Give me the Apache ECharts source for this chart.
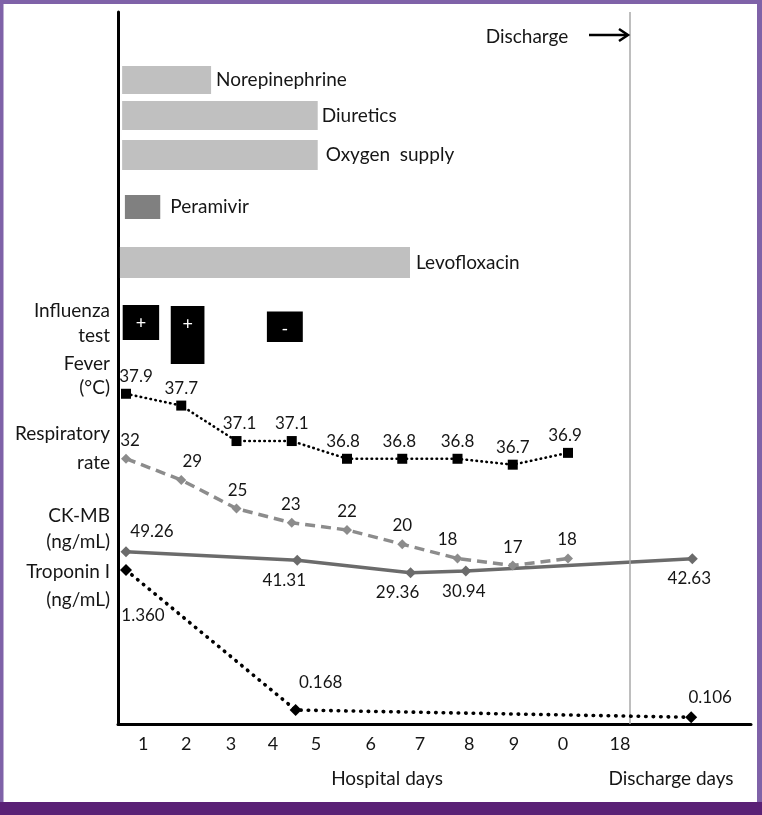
<!DOCTYPE html>
<html><head><meta charset="utf-8">
<script src="https://cdn.jsdelivr.net/npm/echarts@6/dist/echarts.min.js"></script>
<style>html,body{margin:0;padding:0;background:#fff}#c{width:762px;height:815px}</style>
</head><body><div id="c"></div>
<script>
// ================= DATA =================
const treatments = ['Norepinephrine', 'Diuretics', 'Oxygen  supply', 'Peramivir', 'Levofloxacin'];
const treatmentStart = [0.93, 0.93, 0.93, 0.98, 0.89];   // timeline day position
const treatmentEnd   = [2.54, 4.47, 4.47, 1.62, 6.14];

const influenzaResults = ['+', '+', '-'];
const influenzaStart = [0.94, 1.81, 3.55];
const influenzaEnd   = [1.60, 2.42, 4.20];

const vitalDays = [1, 2, 3, 4, 5, 6, 7, 8, 9];
const fever    = [37.9, 37.7, 37.1, 37.1, 36.8, 36.8, 36.8, 36.7, 36.9];
const respRate = [32, 29, 25, 23, 22, 20, 18, 17, 18];

const ckmbDays = [1, 4.1, 6.15, 7.15, 11.25];
const ckmb     = [49.26, 41.31, 29.36, 30.94, 42.63];

const troponinDays = [1, 4.07, 11.23];
const troponin     = [1.360, 0.168, 0.106];

const dayTickPositions = [1.31, 2.09, 2.90, 3.66, 4.44, 5.43, 6.32, 7.21, 8.02, 8.91, 9.94];
const dayTickLabels    = ['1', '2', '3', '4', '5', '6', '7', '8', '9', '0', '18'];
const dischargeDay = 10.12;

const rowTitles = ['Influenza', 'test', 'Fever', '(°C)', 'Respiratory', 'rate', 'CK-MB', '(ng/mL)', 'Troponin I', '(ng/mL)'];

// ================= LAYOUT / STYLE =================
const FONT = 'Lato, "Open Sans", sans-serif';
const TXT = '#161616';
const laneCenter = [6.8, 10.35, 14.3, 19.5, 25.05];
const laneHeight = [2.8, 2.9, 3.0, 2.4, 3.1];
const laneColor  = ['#c0c0c0', '#c0c0c0', '#c0c0c0', '#808080', '#c0c0c0'];
const laneLabelGap = [5, 4, 8, 10, 6];
const fluTop = [29.3, 29.4, 29.95];
const fluBottom = [32.8, 35.2, 33.0];
const rowTitleY = [311, 336, 364, 388, 434, 463, 516, 542, 572, 600];

const feverOffsets = [[10, 0], [0, 0], [3, 0], [0, 0], [-4, 0], [-3, 0], [0, 0], [0, 0], [-3, 0]];
const rrOffsets = [[4, 0], [11, 0], [1, 0], [-1, 0], [0, 0], [0, 0], [-10, 0], [0, 0], [-1, 0]];
const ckPos = ['top', 'bottom', 'bottom', 'bottom', 'bottom'];
const ckOffsets = [[26, 0], [-13, 0], [-13, 0], [-2, 0], [-3, 0]];
const tropPos = ['bottom', 'top', 'top'];
const tropDist = [31, 13, 5];
const tropOffsets = [[17, 0], [25, 0], [19, 0]];

const chart = echarts.init(document.getElementById('c'), null, {renderer: 'canvas'});

const labelBase = {show: true, fontSize: 17, fontFamily: FONT, color: TXT};

const graphics = [];
rowTitles.forEach((t, i) => graphics.push({
  type: 'text', z: 10,
  style: {text: t, x: 110, y: rowTitleY[i], align: 'right', verticalAlign: 'middle',
          font: '19px ' + FONT, fill: TXT}
}));
graphics.push(
  {type: 'text', z: 10, style: {text: 'Discharge', x: 527, y: 37, align: 'center', verticalAlign: 'middle', font: '19px ' + FONT, fill: TXT}},
  {type: 'line', z: 10, shape: {x1: 589, y1: 35, x2: 627, y2: 35}, style: {stroke: '#000', lineWidth: 2.5}},
  {type: 'polyline', z: 10, shape: {points: [[619, 29], [628, 35], [619, 41]]}, style: {stroke: '#000', lineWidth: 2.5, fill: null}},
  {type: 'text', z: 10, style: {text: 'Hospital days', x: 387, y: 779, align: 'center', verticalAlign: 'middle', font: '19px ' + FONT, fill: TXT}},
  {type: 'text', z: 10, style: {text: 'Discharge days', x: 671, y: 779, align: 'center', verticalAlign: 'middle', font: '19px ' + FONT, fill: TXT}},
  // mask for a stray right-hand grid edge, on a layer above everything
  {type: 'rect', zlevel: 5, z: 1, shape: {x: 747.5, y: 5, width: 8, height: 716.5}, style: {fill: '#fff'}},
  // frame
  {type: 'rect', zlevel: 5, z: 2, shape: {x: 0, y: 0, width: 762, height: 4}, style: {fill: '#7f62a8'}},
  {type: 'rect', zlevel: 5, z: 2, shape: {x: 0, y: 0, width: 3.5, height: 815}, style: {fill: '#7f62a8'}},
  {type: 'rect', zlevel: 5, z: 2, shape: {x: 757, y: 0, width: 5, height: 815}, style: {fill: '#7f62a8'}},
  {type: 'rect', zlevel: 5, z: 3, shape: {x: 0, y: 802, width: 762, height: 13}, style: {fill: '#5a2176'}}
);

const hiddenY = (min, max, extra) => Object.assign({
  type: 'value', min: min, max: max, show: false, position: 'left',
  axisLine: {show: false}, axisTick: {show: false}, axisLabel: {show: false}, splitLine: {show: false}
}, extra || {});

const option = {
  backgroundColor: '#fff',
  animation: false,
  textStyle: {fontFamily: FONT},
  grid: {left: 118, top: 12, right: 11, bottom: 91, containLabel: false, show: false},
  xAxis: {
    type: 'value', min: 0.8552, max: 12.312,
    axisLine: {show: true, onZero: false, lineStyle: {color: '#000', width: 3}},
    axisTick: {show: false},
    splitLine: {show: false},
    axisLabel: {
      show: true, customValues: dayTickPositions, margin: 11,
      fontSize: 18, fontFamily: FONT, color: TXT,
      formatter: v => {
        const i = dayTickPositions.findIndex(p => Math.abs(p - v) < 1e-6);
        return i >= 0 ? dayTickLabels[i] : '';
      }
    }
  },
  yAxis: [
    {type: 'value', min: 32.312, max: 44.36, position: 'left',
     axisLine: {show: true, lineStyle: {color: '#000', width: 3}},
     axisTick: {show: false}, axisLabel: {show: false}, splitLine: {show: false}},
    hiddenY(-5.217, 94.64),
    hiddenY(-114.29, 561.9),
    hiddenY(0.0488, 6.111),
    hiddenY(0, 71.2, {inverse: true})
  ],
  graphic: graphics,
  series: [
    {
      type: 'custom', name: 'Treatments', xAxisIndex: 0, yAxisIndex: 4, z: 2,
      data: treatments.map((n, i) => [treatmentStart[i], treatmentEnd[i], laneCenter[i], laneHeight[i], i]),
      encode: {x: [0, 1], y: 2},
      renderItem: (params, api) => {
        const i = api.value(4);
        const p0 = api.coord([api.value(0), api.value(2)]);
        const p1 = api.coord([api.value(1), api.value(2)]);
        const h = Math.abs(api.size([0, api.value(3)])[1]);
        return {type: 'group', children: [
          {type: 'rect', shape: {x: p0[0], y: p0[1] - h / 2, width: p1[0] - p0[0], height: h}, style: {fill: laneColor[i]}},
          {type: 'text', style: {text: treatments[i], x: p1[0] + laneLabelGap[i], y: p0[1], align: 'left', verticalAlign: 'middle', fontSize: 19, fontFamily: FONT, fill: TXT}}
        ]};
      }
    },
    {
      type: 'custom', name: 'Influenza test', xAxisIndex: 0, yAxisIndex: 4, z: 2,
      data: influenzaResults.map((r, i) => [influenzaStart[i], influenzaEnd[i], fluTop[i], fluBottom[i], i]),
      encode: {x: [0, 1], y: [2, 3]},
      renderItem: (params, api) => {
        const i = api.value(4);
        const a = api.coord([api.value(0), api.value(2)]);
        const b = api.coord([api.value(1), api.value(3)]);
        return {type: 'group', children: [
          {type: 'rect', shape: {x: a[0], y: a[1], width: b[0] - a[0], height: b[1] - a[1]}, style: {fill: '#000'}},
          {type: 'text', style: {text: influenzaResults[i], x: (a[0] + b[0]) / 2, y: a[1] + 18, align: 'center', verticalAlign: 'middle', fontSize: 18, fontFamily: FONT, fill: '#fff'}}
        ]};
      }
    },
    {
      type: 'line', name: 'Fever', xAxisIndex: 0, yAxisIndex: 0, z: 5,
      data: vitalDays.map((d, i) => ({value: [d, fever[i]], label: {offset: feverOffsets[i]}})),
      symbol: 'rect', symbolSize: 10, showAllSymbol: true,
      itemStyle: {color: '#000'},
      lineStyle: {color: '#000', width: 2.6, type: [0.5, 4.5], cap: 'round'},
      label: Object.assign({}, labelBase, {position: 'top', distance: 4, formatter: p => fever[p.dataIndex].toFixed(1)}),
      markLine: {
        silent: true, symbol: 'none', label: {show: false},
        lineStyle: {color: '#a8a8a8', width: 1.5, type: 'solid'},
        data: [{xAxis: dischargeDay}]
      }
    },
    {
      type: 'line', name: 'Respiratory rate', xAxisIndex: 0, yAxisIndex: 1, z: 4,
      data: vitalDays.map((d, i) => ({value: [d, respRate[i]], label: {offset: rrOffsets[i]}})),
      symbol: 'diamond', symbolSize: 10, showAllSymbol: true,
      itemStyle: {color: '#8c8c8c'},
      lineStyle: {color: '#8c8c8c', width: 3.5, type: [10, 6]},
      label: Object.assign({}, labelBase, {position: 'top', distance: 5, formatter: p => String(respRate[p.dataIndex])})
    },
    {
      type: 'line', name: 'CK-MB', xAxisIndex: 0, yAxisIndex: 2, z: 4,
      data: ckmbDays.map((d, i) => ({value: [d, ckmb[i]], label: {position: ckPos[i], offset: ckOffsets[i]}})),
      symbol: 'diamond', symbolSize: 11, showAllSymbol: true,
      itemStyle: {color: '#6b6b6b'},
      lineStyle: {color: '#6b6b6b', width: 3.5},
      label: Object.assign({}, labelBase, {distance: 6, formatter: p => ckmb[p.dataIndex].toFixed(2)})
    },
    {
      type: 'line', name: 'Troponin I', xAxisIndex: 0, yAxisIndex: 3, z: 5,
      data: troponinDays.map((d, i) => ({value: [d, troponin[i]], label: {position: tropPos[i], distance: tropDist[i], offset: tropOffsets[i]}})),
      symbol: 'diamond', symbolSize: 12, showAllSymbol: true,
      itemStyle: {color: '#000'},
      lineStyle: {color: '#000', width: 3.6, type: [0.5, 7], cap: 'round'},
      label: Object.assign({}, labelBase, {formatter: p => troponin[p.dataIndex].toFixed(3)})
    }
  ]
};
chart.setOption(option);
</script>
</body></html>
